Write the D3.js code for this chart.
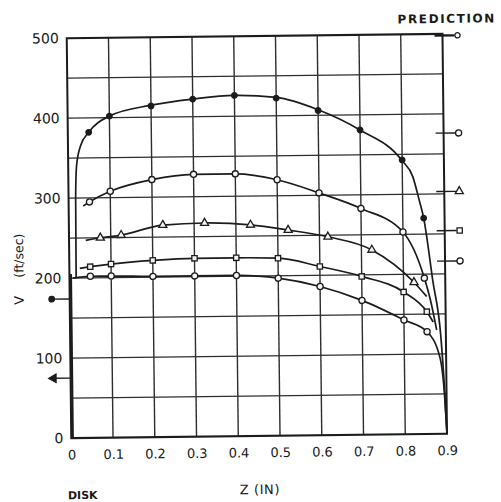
<!DOCTYPE html>
<html>
<head>
<meta charset="utf-8">
<script src="https://cdn.jsdelivr.net/npm/d3@7/dist/d3.min.js"></script>
<style>
  body { margin: 0; background: #fff; }
  text { font-family: "DejaVu Sans", sans-serif; fill: #1a1a1a; }
</style>
</head>
<body>
<svg id="chart" width="501" height="502"></svg>
<script>
// Axis ticks
const zTicks = [0, 0.1, 0.2, 0.3, 0.4, 0.5, 0.6, 0.7, 0.8, 0.9];
const vTicks = [0, 100, 200, 300, 400, 500];
const vGrid = [50, 100, 150, 200, 250, 300, 350, 400, 450];

// Measured velocity profiles: marker positions
const s1Z = [0.05, 0.1, 0.2, 0.3, 0.4, 0.5, 0.6, 0.7, 0.8, 0.85];
const s1V = [382, 402, 414, 422, 426, 422, 406, 381, 343, 270];
const s2Z = [0.05, 0.1, 0.2, 0.3, 0.4, 0.5, 0.6, 0.7, 0.8, 0.85];
const s2V = [295, 308, 322, 328, 328, 320, 303, 283, 253, 195];
const s3Z = [0.075, 0.125, 0.225, 0.325, 0.435, 0.525, 0.62, 0.725, 0.825];
const s3V = [250, 253, 265, 267, 264, 257, 248, 231, 190];
const s4Z = [0.05, 0.1, 0.2, 0.3, 0.4, 0.5, 0.6, 0.7, 0.8, 0.855];
const s4V = [214, 217, 221, 223, 223, 222, 211, 198, 178, 153];
const s5Z = [0.05, 0.1, 0.2, 0.3, 0.4, 0.5, 0.6, 0.7, 0.8, 0.855];
const s5V = [202, 202, 201, 201, 201, 197, 186, 168, 143, 128];

// Faired curves through each profile, wall to wall
const c1Z = [0.016, 0.017, 0.02, 0.03, 0.05, 0.1, 0.2, 0.3, 0.4, 0.5, 0.6, 0.7, 0.8, 0.825, 0.84, 0.85, 0.87, 0.888, 0.895, 0.9];
const c1V = [200, 300, 340, 365, 382, 402, 415, 422, 426, 423, 407, 381, 342, 322, 292, 270, 192, 121, 60, 0];
const c2Z = [0.035, 0.05, 0.1, 0.2, 0.3, 0.4, 0.5, 0.6, 0.7, 0.8, 0.85, 0.865, 0.878];
const c2V = [290, 295, 308, 322, 328, 328, 320, 303, 283, 253, 195, 165, 130];
const c3Z = [0.04, 0.075, 0.125, 0.225, 0.325, 0.435, 0.525, 0.62, 0.725, 0.825, 0.855];
const c3V = [247, 250, 253, 265, 267, 264, 257, 248, 231, 190, 172];
const c4Z = [0.025, 0.05, 0.1, 0.2, 0.3, 0.4, 0.5, 0.6, 0.7, 0.8, 0.855, 0.87];
const c4V = [212, 214, 217, 221, 223, 223, 222, 211, 198, 178, 153, 140];
const c5Z = [0.008, 0.05, 0.1, 0.2, 0.3, 0.4, 0.5, 0.6, 0.7, 0.8, 0.855, 0.885, 0.895, 0.9];
const c5V = [200, 202, 202, 201, 201, 201, 197, 186, 168, 143, 128, 96, 50, 0];

// Predicted values, shown as flags outside the frame
const predRightV = [498, 376, 303, 254, 216];
const predRightShape = ["smallCircle", "circle", "triangle", "square", "circle"];
const predLeftV = [174, 75];
const predLeftShape = ["dot", "arrow"];

const svg = d3.select("#chart");
// the sheet sits very slightly askew
const g = svg.append("g").attr("transform", "rotate(-0.65 257 236)");

const x = d3.scaleLinear().domain([0, 0.9]).range([69, 444.75]);
const y = d3.scaleLinear().domain([0, 500]).range([436, 36]);

const ink = "#1c1c1c";

// Grid
g.append("g").selectAll("line").data(zTicks.slice(1, -1)).join("line")
  .attr("x1", d => x(d)).attr("x2", d => x(d))
  .attr("y1", y(0)).attr("y2", y(500))
  .attr("stroke", "#2e2e2e").attr("stroke-width", 1.4);
g.append("g").selectAll("line").data(vGrid).join("line")
  .attr("x1", x(0)).attr("x2", x(0.9))
  .attr("y1", d => y(d)).attr("y2", d => y(d))
  .attr("stroke", "#2e2e2e").attr("stroke-width", 1.4);

// Frame
g.append("rect")
  .attr("x", x(0)).attr("y", y(500))
  .attr("width", x(0.9) - x(0)).attr("height", y(0) - y(500))
  .attr("fill", "none").attr("stroke", ink).attr("stroke-width", 2);
// disk wall, heavier
g.append("line")
  .attr("x1", x(0) + 1.5).attr("x2", x(0) + 1.5)
  .attr("y1", y(0)).attr("y2", y(205))
  .attr("stroke", ink).attr("stroke-width", 2.2);

// Axis tick labels via d3 axes (no tick marks, no domain)
const xAxis = d3.axisBottom(x).tickValues(zTicks)
  .tickFormat(d => d === 0 ? "0" : d3.format(".1f")(d))
  .tickSize(0).tickPadding(12);
const xa = g.append("g").attr("transform", `translate(0,${y(0)})`).call(xAxis);
xa.select(".domain").remove();
xa.selectAll("text").attr("font-size", 13).attr("font-family", "DejaVu Sans").attr("fill", "#1a1a1a");

const yAxis = d3.axisLeft(y).tickValues(vTicks).tickSize(0).tickPadding(8);
const ya = g.append("g").attr("transform", `translate(${x(0)},0)`).call(yAxis);
ya.select(".domain").remove();
ya.selectAll("text").attr("font-size", 14).attr("font-family", "DejaVu Sans").attr("fill", "#2a2a2a");

// Curves
const line = d3.line().x(d => x(d[0])).y(d => y(d[1])).curve(d3.curveMonotoneX);
const curves = [[c1Z, c1V], [c2Z, c2V], [c3Z, c3V], [c4Z, c4V], [c5Z, c5V]];
g.append("g").selectAll("path").data(curves).join("path")
  .attr("d", ([zs, vs]) => line(zs.map((z, i) => [z, vs[i]])))
  .attr("fill", "none").attr("stroke", ink).attr("stroke-width", 1.7);

// Markers
const shapeOf = {
  dot: d3.symbol().type(d3.symbolCircle).size(24),
  circle: d3.symbol().type(d3.symbolCircle).size(30),
  smallCircle: d3.symbol().type(d3.symbolCircle).size(22),
  triangle: d3.symbol().type(d3.symbolTriangle).size(28),
  square: d3.symbol().type(d3.symbolSquare).size(28)
};
const series = [
  { z: s1Z, v: s1V, shape: "dot", filled: true },
  { z: s2Z, v: s2V, shape: "circle", filled: false },
  { z: s3Z, v: s3V, shape: "triangle", filled: false },
  { z: s4Z, v: s4V, shape: "square", filled: false },
  { z: s5Z, v: s5V, shape: "circle", filled: false }
];
series.forEach(s => {
  g.append("g").selectAll("path").data(s.z.map((z, i) => [z, s.v[i]])).join("path")
    .attr("transform", d => `translate(${x(d[0])},${y(d[1])})`)
    .attr("d", shapeOf[s.shape]())
    .attr("fill", s.filled ? ink : "#f4f4f4")
    .attr("stroke", ink).attr("stroke-width", 1.3);
});

// Prediction flags, right side
const pr = g.append("g");
predRightV.forEach((v, i) => {
  pr.append("line")
    .attr("x1", x(0.9) - 8).attr("x2", x(0.9) + 12)
    .attr("y1", y(v)).attr("y2", y(v))
    .attr("stroke", ink).attr("stroke-width", i === 0 ? 2.4 : 1.4);
  pr.append("path")
    .attr("transform", `translate(${x(0.9) + 15},${y(v)})`)
    .attr("d", shapeOf[predRightShape[i]]())
    .attr("fill", "#fff").attr("stroke", ink).attr("stroke-width", 1.3);
});
// Prediction flags, left (disk) side
predLeftV.forEach((v, i) => {
  g.append("line")
    .attr("x1", x(0) - 17).attr("x2", x(0))
    .attr("y1", y(v)).attr("y2", y(v))
    .attr("stroke", ink).attr("stroke-width", 1.4);
  const p = g.append("path").attr("fill", ink).attr("stroke", ink).attr("stroke-width", 1);
  if (predLeftShape[i] === "dot") {
    p.attr("transform", `translate(${x(0) - 18},${y(v)})`)
      .attr("d", d3.symbol().type(d3.symbolCircle).size(26)());
  } else {
    p.attr("transform", `translate(${x(0) - 17},${y(v)}) rotate(-90)`)
      .attr("d", d3.symbol().type(d3.symbolTriangle).size(34)());
  }
});

// Titles
g.append("text").attr("x", 400).attr("y", 25)
  .attr("font-size", 12).attr("font-weight", "bold").attr("letter-spacing", 1.6)
  .text("PREDICTION");
g.append("text").attr("x", 65).attr("y", 497)
  .attr("font-size", 11).attr("font-weight", "bold")
  .text("DISK");
g.append("text").attr("x", 257).attr("y", 494).attr("text-anchor", "middle")
  .attr("font-size", 13).attr("letter-spacing", 0.6)
  .text("Z (IN)");
g.append("text").attr("transform", "translate(23,302) rotate(-90)")
  .attr("font-size", 13).text("V");
g.append("text").attr("transform", "translate(23,275) rotate(-90)")
  .attr("font-size", 12.5).text("(ft/sec)");
</script>
</body>
</html>
